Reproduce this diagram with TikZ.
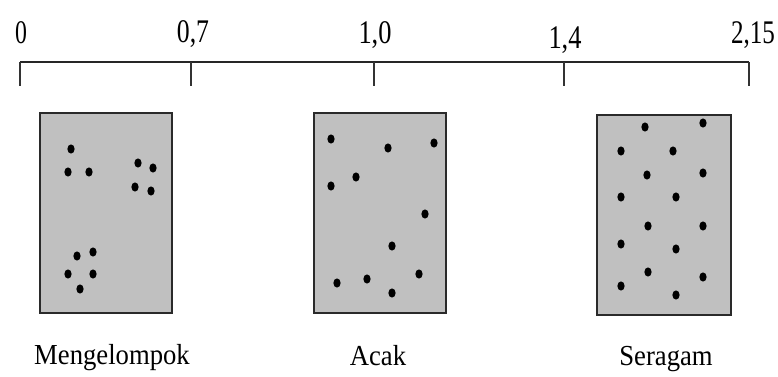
\documentclass[tikz,border=0pt]{standalone}
\usepackage{fontspec}
\usepackage{graphicx}
\setmainfont{Liberation Serif}
\definecolor{boxfill}{HTML}{C0C0C0}
\definecolor{boxline}{HTML}{2A2A2A}
\begin{document}
\begin{tikzpicture}[x=1pt,y=-1pt,
  numlbl/.style={anchor=base,inner sep=0pt,font=\fontsize{33}{36}\selectfont},
  catlbl/.style={anchor=base,inner sep=0pt,font=\fontsize{29}{32}\selectfont},
  areabox/.style={draw=boxline,line width=2.8pt,fill=boxfill,inner sep=0pt},
  scaleline/.style={draw=black!85,line width=2.6pt},
  tickline/.style={draw=black!80,line width=1.8pt},
  pt/.style={fill=black,draw=none}]
\useasboundingbox (0,0) rectangle (778,376);
% scale
\coordinate (t0) at (20,62);
\coordinate (t1) at (191,62);
\coordinate (t2) at (374,62);
\coordinate (t3) at (564,62);
\coordinate (t4) at (749,62);
\coordinate (b0) at (20,86);
\coordinate (b1) at (191,86);
\coordinate (b2) at (374,86);
\coordinate (b3) at (564,86);
\coordinate (b4) at (749,86);
\draw[scaleline] (t0) -- (t4);
\draw[tickline] (t0) -- (b0);
\draw[tickline] (t1) -- (b1);
\draw[tickline] (t2) -- (b2);
\draw[tickline] (t3) -- (b3);
\draw[tickline] (t4) -- (b4);
\node[numlbl] (n0) at (21,43) {\scalebox{0.72}[1]{0}};
\node[numlbl] (n1) at (193,42) {\scalebox{0.78}[1]{0,7}};
\node[numlbl] (n2) at (375,43) {\scalebox{0.8}[1]{1,0}};
\node[numlbl] (n3) at (565,48) {\scalebox{0.8}[1]{1,4}};
\node[numlbl] (n4) at (753,43) {\scalebox{0.76}[1]{2,15}};
% boxes
\node[areabox,minimum width=132pt,minimum height=200pt] (box1) at (106,213) {};
\node[areabox,minimum width=132pt,minimum height=200pt] (box2) at (380,213) {};
\node[areabox,minimum width=134pt,minimum height=200pt] (box3) at (664,215) {};
% clustered dots
\foreach \p in {(71,149),(68,172),(89,172),(138,163),(153,168),(135,187),(151,191),(93,252),(77,256),(68,274),(93,274),(80,289)}
  \fill[pt] \p ellipse [x radius=3.6, y radius=4.6];
% random dots
\foreach \p in {(331,139),(388,148),(434,143),(331,186),(356,177),(425,214),(392,246),(337,283),(367,279),(419,274),(392,293)}
  \fill[pt] \p ellipse [x radius=3.6, y radius=4.6];
% uniform dots
\foreach \p in {(645,127),(703,123),(621,151),(673,151),(647,175),(703,173),(621,197),(676,197),(648,226),(703,226),(621,244),(676,249),(648,272),(703,277),(621,286),(676,295)}
  \fill[pt] \p ellipse [x radius=3.6, y radius=4.6];
% category labels
\node[catlbl] (l1) at (112,364) {\scalebox{0.92}[1]{Mengelompok}};
\node[catlbl] (l2) at (378,365) {\scalebox{0.92}[1]{Acak}};
\node[catlbl] (l3) at (666,365) {\scalebox{0.92}[1]{Seragam}};
\end{tikzpicture}
\end{document}
